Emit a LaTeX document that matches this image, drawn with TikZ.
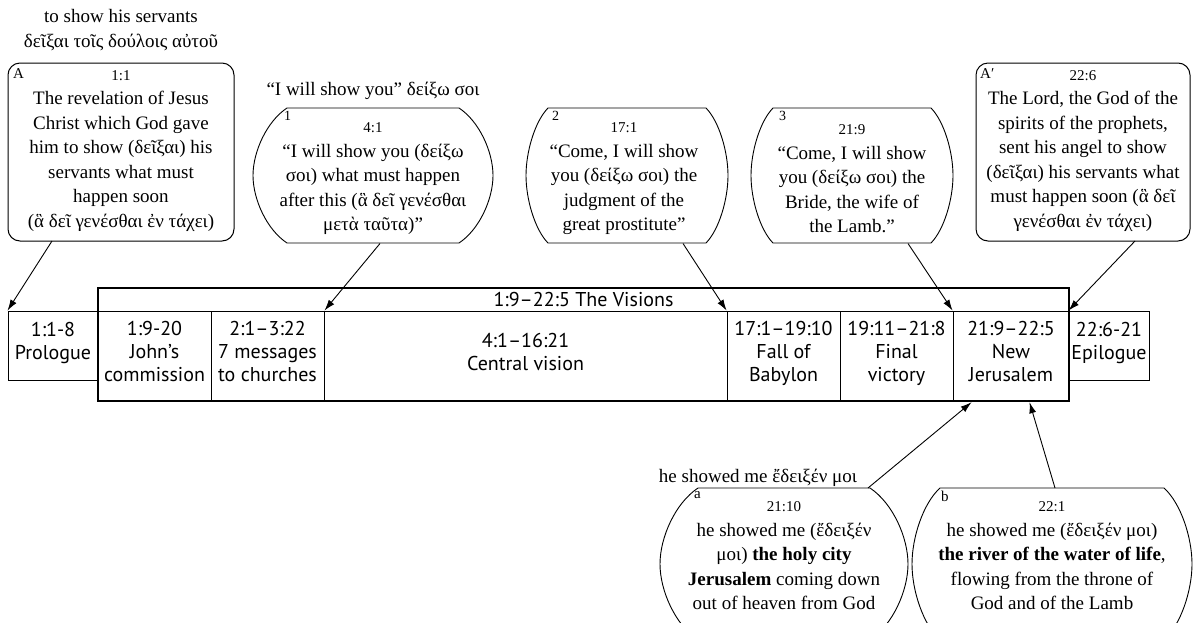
\documentclass[tikz,border=0pt]{standalone}
\usepackage{fontspec}
\setmainfont{Liberation Serif}
\newfontfamily\barfont{PT Sans}
\newfontfamily\grfb{DejaVu Serif}[Scale=0.86]
\usetikzlibrary{arrows.meta,calc}
\newcommand{\gr}[1]{\iffontchar\font"1F03\relax #1\else{\grfb #1}\fi}
\newcommand{\refsz}{\fontsize{15}{15}\selectfont}
% cx, cy, half top width, half max width, half height
\newcommand{\bubble}[5]{\draw[bubbleline] ({#1-#3},{#2-#5}) -- ({#1+#3},{#2-#5})
  .. controls ({#1+#3+0.6*(#4-#3)},{#2-0.8*#5}) and ({#1+#4},{#2-0.35*#5}) .. ({#1+#4},{#2})
  .. controls ({#1+#4},{#2+0.35*#5}) and ({#1+#3+0.6*(#4-#3)},{#2+0.8*#5}) .. ({#1+#3},{#2+#5})
  -- ({#1-#3},{#2+#5})
  .. controls ({#1-#3-0.6*(#4-#3)},{#2+0.8*#5}) and ({#1-#4},{#2+0.35*#5}) .. ({#1-#4},{#2})
  .. controls ({#1-#4},{#2-0.35*#5}) and ({#1-#3-0.6*(#4-#3)},{#2-0.8*#5}) .. ({#1-#3},{#2-#5}) -- cycle;}
\tikzset{
  txt/.style={align=center, font=\fontsize{19}{24.5}\selectfont, inner sep=0pt},
  lab/.style={font=\fontsize{15}{15}\selectfont, inner sep=0pt, anchor=north west},
  sbox/.style={draw, rounded corners=12pt, line width=1pt},
  bubbleline/.style={line width=0.9pt},
  cell/.style={draw, line width=0.9pt, align=center, inner sep=0pt, text depth=9pt, font=\barfont\fontsize{20}{23}\selectfont},
  frame/.style={draw, line width=2.4pt, inner sep=0pt},
  arr/.style={-{Latex[length=11pt,width=7pt]}, line width=0.9pt},
}
\begin{document}
\begin{tikzpicture}[x=1pt,y=-1pt]
\useasboundingbox (0,0) rectangle (1194,622);
\clip (0,0) rectangle (1194,622);

% ---------- top row ----------
\node[txt] (t0) at (121,30) {to show his servants\\\gr{δεῖξαι τοῖς δούλοις αὐτοῦ}};
\node[sbox, minimum width=226pt, minimum height=178pt] (A) at (121,152) {};
\node[txt] (Atx) at (121,151) {{\refsz 1:1}\\The revelation of Jesus\\Christ which God gave\\him to show (\gr{δεῖξαι}) his\\servants what must\\happen soon\\(\gr{ἃ δεῖ γενέσθαι ἐν τάχει})};
\node[lab] (Al) at (13,68) {A};

\node[txt] (t1) at (373,91) {“I will show you” \gr{δείξω σοι}};
\bubble{373}{175.5}{86}{120}{67.5}
\node[txt] (b1) at (373,179) {{\refsz 4:1}\\“I will show you (\gr{δείξω}\\\gr{σοι}) what must happen\\after this (\gr{ἃ δεῖ γενέσθαι}\\\gr{μετὰ ταῦτα})”};
\node[lab] (b1l) at (284,111) {\fontsize{14}{14}\selectfont 1};

\bubble{627}{175.5}{79}{101}{67.5}
\node[txt] (b2) at (624,179) {{\refsz 17:1}\\“Come, I will show\\you (\gr{δείξω σοι}) the\\judgment of the\\great prostitute”};
\node[lab] (b2l) at (552,111) {\fontsize{14}{14}\selectfont 2};

\bubble{852}{175.5}{79}{101}{67.5}
\node[txt] (b3) at (852,179) {{\refsz 21:9}\\“Come, I will show\\you (\gr{δείξω σοι}) the\\Bride, the wife of\\the Lamb.”};
\node[lab] (b3l) at (779,111) {\fontsize{14}{14}\selectfont 3};

\node[sbox, minimum width=214pt, minimum height=178pt] (Ap) at (1083,152) {};
\node[txt] (Aptx) at (1083,151) {{\refsz 22:6}\\The Lord, the God of the\\spirits of the prophets,\\sent his angel to show\\(\gr{δεῖξαι}) his servants what\\must happen soon (\gr{ἃ δεῖ}\\\gr{γενέσθαι ἐν τάχει})};
\node[lab] (Apl) at (980,68) {A′};

% ---------- bar ----------
\node[cell, minimum width=90pt, minimum height=69pt] (pro) at (53,345.5) {1:1-8\\Prologue};
\node[cell, minimum width=113pt, minimum height=90pt] (jc) at (154.5,356) {1:9-20\\John’s\\commission};
\node[cell, minimum width=113pt, minimum height=90pt] (msg) at (267.5,356) {2:1–3:22\\7 messages\\to churches};
\node[cell, minimum width=403pt, minimum height=90pt] (cen) at (525.5,356) {4:1–16:21\\Central vision};
\node[cell, minimum width=113pt, minimum height=90pt] (bab) at (783.5,356) {17:1–19:10\\Fall of\\Babylon};
\node[cell, minimum width=113pt, minimum height=90pt] (fin) at (896.5,356) {19:11–21:8\\Final\\victory};
\node[cell, minimum width=116pt, minimum height=90pt] (nj) at (1011,356) {21:9–22:5\\New\\Jerusalem};
\node[cell, minimum width=80pt, minimum height=69pt] (epi) at (1109,345.5) {22:6-21\\Epilogue};
\node[frame, minimum width=971pt, minimum height=113pt] (vis) at (583.5,344.5) {};
\node[cell, draw=none, text depth=] (vtitle) at (583.5,299.5) {1:9–22:5 The Visions};

% ---------- bottom row ----------
\node[txt] (t2) at (758,478) {he showed me \gr{ἔδειξέν μοι}};
\bubble{784}{564}{86}{124}{76}
\node[txt] (ba) at (784,556) {{\refsz 21:10}\\he showed me (\gr{ἔδειξέν}\\\gr{μοι}) \textbf{the holy city}\\\textbf{Jerusalem} coming down\\out of heaven from God};
\node[lab] (bal) at (694,491) {a};

\bubble{1052}{564}{112}{140}{76}
\node[txt] (bb) at (1052,556) {{\refsz 22:1}\\he showed me (\gr{ἔδειξέν μοι})\\\textbf{the river of the water of life},\\flowing from the throne of\\God and of the Lamb};
\node[lab] (bbl) at (941,491) {b};

% ---------- connectors ----------
\coordinate (As) at (52,241);
\coordinate (b1s) at (380,243.5);
\coordinate (b2s) at (683,243.5);
\coordinate (b3s) at (908,243.5);
\coordinate (Aps) at (1135,241);
\coordinate (bas) at (868,488);
\coordinate (bbs) at (1055,488);
\draw[arr] (As) -- (pro.north west);
\draw[arr] (b1s) -- (msg.north east);
\draw[arr] (b2s) -- (bab.north west);
\draw[arr] (b3s) -- (nj.north west);
\draw[arr] (Aps) -- (epi.north west);
\draw[arr] (bas) -- ([shift={(19pt,-0.8pt)}]nj.south west);
\draw[arr] (bbs) -- ([shift={(77pt,-0.8pt)}]nj.south west);
\end{tikzpicture}
\end{document}
